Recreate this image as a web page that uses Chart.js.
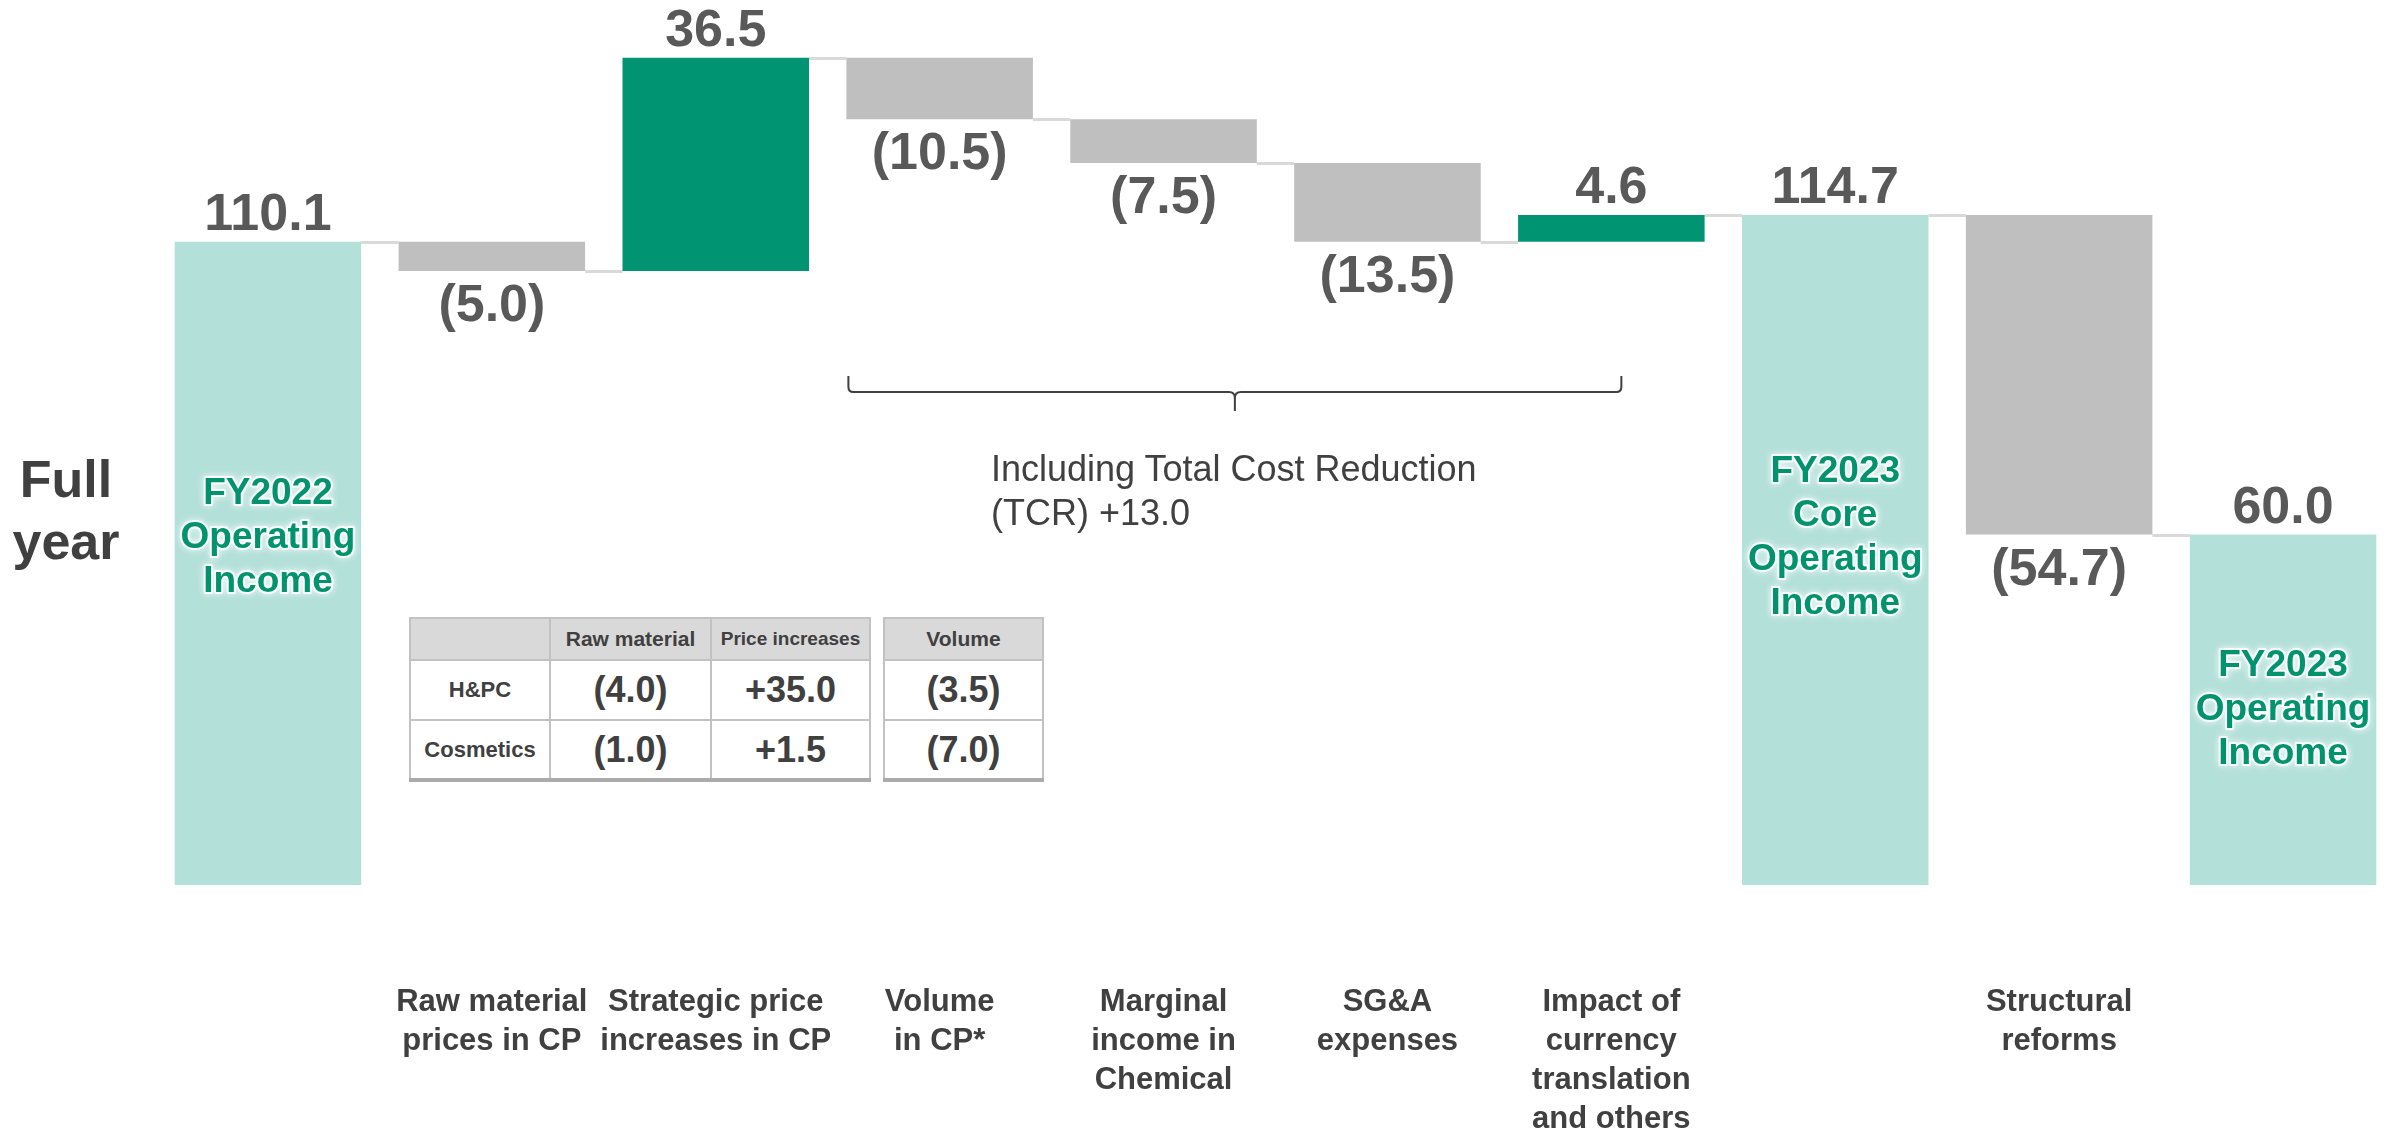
<!DOCTYPE html>
<html>
<head>
<meta charset="utf-8">
<script src="https://cdn.jsdelivr.net/npm/chart.js@4.4.1/dist/chart.umd.min.js"></script>
<style>
  html, body { margin: 0; padding: 0; background: #fff; overflow: hidden; }
  #wrap { position: relative; width: 2395px; height: 1133px; font-family: "Liberation Sans", Arial, sans-serif; color: #404040; }
  #chart { position: absolute; left: 0; top: 0; }
  .side { position: absolute; left: 0; top: 448px; width: 132px; text-align: center; font-weight: bold; font-size: 52px; line-height: 62px; }
  .note { position: absolute; left: 991px; top: 447px; font-size: 36px; line-height: 44px; white-space: nowrap; }
  table.bd { position: absolute; top: 617px; border-collapse: collapse; background: #fff; border-bottom: 4px solid #ababab; }
  table.bd td, table.bd th { border: 2px solid #c2c2c2; text-align: center; vertical-align: middle; padding: 0; font-weight: bold; }
  table.bd th { background: #d9d9d9; font-size: 21px; height: 40px; }
  table.bd td { font-size: 36px; }
  table.bd td.rl { font-size: 22px; }
  table.bd tr.r1 td { height: 58px; }
  table.bd tr.r2 td { height: 57px; }
</style>
</head>
<body>
<div id="wrap">
  <canvas id="chart" width="2395" height="1133"></canvas>
  <div class="side">Full<br>year</div>
  <div class="note">Including Total Cost Reduction<br>(TCR) +13.0</div>
  <table class="bd" id="tblA" style="left:409px; width:462px;"></table>
  <table class="bd" id="tblB" style="left:883px; width:161px;"></table>
</div>

<script>
// --- DATA ---
const categories = [
    '',
    ['Raw material', 'prices in CP'],
    ['Strategic price', 'increases in CP'],
    ['Volume', 'in CP*'],
    ['Marginal', 'income in', 'Chemical'],
    ['SG&A', 'expenses'],
    ['Impact of', 'currency', 'translation', 'and others'],
    '',
    ['Structural', 'reforms'],
    ''
];
const values = [110.1, -5.0, 36.5, -10.5, -7.5, -13.5, 4.6, 114.7, -54.7, 60.0];
const isTotal = [true, false, false, false, false, false, false, true, false, true];
const totalNames = [
    ['FY2022', 'Operating', 'Income'],
    null, null, null, null, null, null,
    ['FY2023', 'Core', 'Operating', 'Income'],
    null,
    ['FY2023', 'Operating', 'Income']
];

// breakdown tables
const tableRows = ['H&PC', 'Cosmetics'];
const rawMaterial = ['(4.0)', '(1.0)'];
const priceIncreases = ['+35.0', '+1.5'];
const volume = ['(3.5)', '(7.0)'];

const COLORS = { total: '#b3e0d9', up: '#009472', down: '#bfbfbf' };
const FONT = '"Liberation Sans", Arial, sans-serif';

// --- WATERFALL RANGES ---
const ranges = [];
const ends = [];
let running = 0;
values.forEach((v, i) => {
    if (isTotal[i]) {
        ranges.push([0, v]);
        running = v;
    } else {
        const next = running + v;
        ranges.push([Math.min(running, next), Math.max(running, next)]);
        running = next;
    }
    ends.push(running);
});
const barColors = values.map((v, i) => isTotal[i] ? COLORS.total : (v >= 0 ? COLORS.up : COLORS.down));

function fmt(v) {
    return v < 0 ? `(${Math.abs(v).toFixed(1)})` : v.toFixed(1);
}

// --- TABLES ---
function buildTables() {
    let a = '<tr><th style="width:138px"></th><th style="width:159px">Raw material</th><th style="font-size:19px">Price increases</th></tr>';
    tableRows.forEach((r, i) => {
        a += `<tr class="r${i + 1}"><td class="rl">${r}</td><td>${rawMaterial[i]}</td><td>${priceIncreases[i]}</td></tr>`;
    });
    document.getElementById('tblA').innerHTML = a;

    let b = '<tr><th>Volume</th></tr>';
    volume.forEach((v, i) => {
        b += `<tr class="r${i + 1}"><td>${v}</td></tr>`;
    });
    document.getElementById('tblB').innerHTML = b;
}

// --- DECORATIONS ---
const waterfallDecor = {
    id: 'waterfallDecor',
    beforeDatasetsDraw(chart) {
        const { ctx } = chart;
        const y = chart.scales.y;
        const bars = chart.getDatasetMeta(0).data;
        ctx.save();
        ctx.strokeStyle = '#d9d9d9';
        ctx.lineWidth = 3;
        for (let i = 0; i < bars.length - 1; i++) {
            const py = Math.round(y.getPixelForValue(ends[i])) + 0.5;
            ctx.beginPath();
            ctx.moveTo(bars[i].x + bars[i].width / 2, py);
            ctx.lineTo(bars[i + 1].x - bars[i + 1].width / 2, py);
            ctx.stroke();
        }
        ctx.restore();
    },
    afterDatasetsDraw(chart) {
        const { ctx } = chart;
        const y = chart.scales.y;
        const bars = chart.getDatasetMeta(0).data;
        ctx.save();

        // value labels
        ctx.font = `bold 52px ${FONT}`;
        ctx.fillStyle = '#595959';
        ctx.textAlign = 'center';
        ctx.textBaseline = 'alphabetic';
        bars.forEach((bar, i) => {
            const v = values[i];
            const top = y.getPixelForValue(ranges[i][1]);
            const bottom = y.getPixelForValue(ranges[i][0]);
            if (v >= 0 || isTotal[i]) {
                ctx.fillText(fmt(v), bar.x, top - 12);
            } else {
                ctx.fillText(fmt(v), bar.x, bottom + 50);
            }
        });

        // names inside total bars, green with a soft white glow
        ctx.font = `bold 37px ${FONT}`;
        ctx.textBaseline = 'middle';
        ctx.lineJoin = 'round';
        bars.forEach((bar, i) => {
            const lines = totalNames[i];
            if (!lines) return;
            const level = values[i] >= 100 ? 59.5 : values[i] / 2;
            const cy = y.getPixelForValue(level);
            const start = cy - (lines.length - 1) * 22;
            lines.forEach((t, k) => {
                const ty = start + k * 44;
                ctx.shadowColor = 'rgba(255,255,255,1)';
                ctx.shadowBlur = 7;
                ctx.strokeStyle = 'rgba(255,255,255,0.85)';
                ctx.lineWidth = 4;
                ctx.strokeText(t, bar.x, ty);
                ctx.shadowBlur = 0;
                ctx.fillStyle = '#00936e';
                ctx.fillText(t, bar.x, ty);
            });
        });

        // brace over the cost items
        const left = bars[3].x - bars[3].width / 2 + 2;
        const right = bars[6].x + 10;
        const mid = (left + right) / 2;
        const ly = 392;
        ctx.strokeStyle = '#404040';
        ctx.lineWidth = 2;
        ctx.beginPath();
        ctx.moveTo(left, 376);
        ctx.lineTo(left, ly - 5);
        ctx.quadraticCurveTo(left, ly, left + 5, ly);
        ctx.lineTo(mid - 6, ly);
        ctx.quadraticCurveTo(mid, ly, mid, ly + 6);
        ctx.lineTo(mid, 411);
        ctx.moveTo(mid, ly + 6);
        ctx.quadraticCurveTo(mid, ly, mid + 6, ly);
        ctx.lineTo(right - 5, ly);
        ctx.quadraticCurveTo(right, ly, right, ly - 5);
        ctx.lineTo(right, 376);
        ctx.stroke();

        ctx.restore();
    }
};

document.addEventListener('DOMContentLoaded', () => {
    buildTables();

    const ctx = document.getElementById('chart').getContext('2d');
    new Chart(ctx, {
        type: 'bar',
        data: {
            labels: categories,
            datasets: [{
                data: ranges,
                backgroundColor: barColors,
                borderWidth: 0,
                barPercentage: 0.833,
                categoryPercentage: 1
            }]
        },
        options: {
            responsive: false,
            animation: false,
            layout: { padding: { left: 156, right: 0, top: 0, bottom: 0 } },
            plugins: {
                legend: { display: false },
                tooltip: { enabled: false }
            },
            scales: {
                x: {
                    grid: { display: false, drawTicks: false },
                    border: { display: false },
                    ticks: {
                        color: '#404040',
                        font: { family: FONT, size: 31, weight: 'bold', lineHeight: 1.26 },
                        padding: 98,
                        maxRotation: 0,
                        autoSkip: false
                    },
                    afterFit: (scale) => { scale.height = 248; }
                },
                y: { display: false, min: 0, max: 151.5 }
            }
        },
        plugins: [waterfallDecor]
    });
});
</script>
</body>
</html>
